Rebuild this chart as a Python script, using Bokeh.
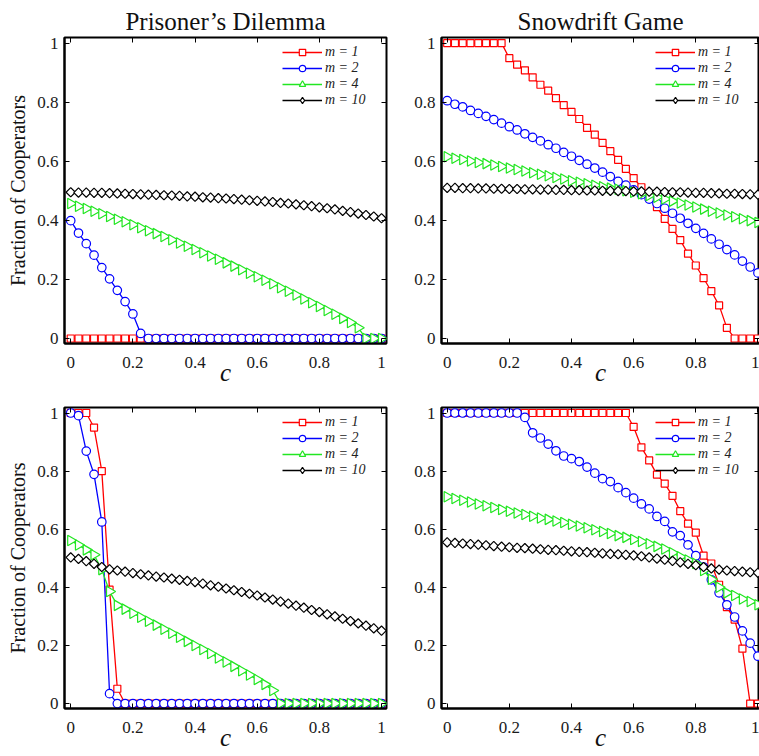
import math
from bokeh.plotting import figure
from bokeh.layouts import gridplot
from bokeh.models import (Range1d, FixedTicker, CustomJSTickFormatter, LinearAxis,
                          Legend, LegendItem)
from bokeh.embed import file_html
from bokeh.resources import INLINE

# ---------------- data ----------------
C = [0.000, 0.025, 0.050, 0.075, 0.100, 0.125, 0.150, 0.175, 0.200, 0.225,
     0.250, 0.275, 0.300, 0.325, 0.350, 0.375, 0.400, 0.425, 0.450, 0.475,
     0.500, 0.525, 0.550, 0.575, 0.600, 0.625, 0.650, 0.675, 0.700, 0.725,
     0.750, 0.775, 0.800, 0.825, 0.850, 0.875, 0.900, 0.925, 0.950, 0.975, 1.000]

# Prisoner's Dilemma, top row
PD1_m1 = [0, 0, 0, 0, 0, 0, 0, 0, 0, 0,
          0, 0, 0, 0, 0, 0, 0, 0, 0, 0,
          0, 0, 0, 0, 0, 0, 0, 0, 0, 0,
          0, 0, 0, 0, 0, 0, 0, 0, 0, 0, 0]
PD1_m2 = [0.399, 0.357, 0.321, 0.282, 0.240, 0.202, 0.163, 0.125, 0.083, 0.017,
          0, 0, 0, 0, 0, 0, 0, 0, 0, 0,
          0, 0, 0, 0, 0, 0, 0, 0, 0, 0,
          0, 0, 0, 0, 0, 0, 0, 0, 0, 0, 0]
PD1_m4 = [0.457, 0.448, 0.440, 0.431, 0.422, 0.413, 0.404, 0.395, 0.385, 0.375,
          0.365, 0.355, 0.345, 0.334, 0.323, 0.312, 0.301, 0.290, 0.279, 0.268,
          0.256, 0.245, 0.233, 0.221, 0.209, 0.197, 0.185, 0.172, 0.160, 0.147,
          0.134, 0.121, 0.108, 0.095, 0.082, 0.068, 0.054, 0.036, 0.0, 0.0, 0.0]
PD1_m10 = [0.495, 0.494, 0.494, 0.493, 0.493, 0.492, 0.491, 0.490, 0.489, 0.488,
           0.487, 0.486, 0.485, 0.484, 0.483, 0.481, 0.480, 0.478, 0.477, 0.475,
           0.474, 0.472, 0.470, 0.468, 0.466, 0.464, 0.462, 0.459, 0.457, 0.454,
           0.451, 0.448, 0.444, 0.441, 0.437, 0.432, 0.428, 0.423, 0.418, 0.413, 0.407]

# Snowdrift Game, top row
SD1_m1 = [1.0, 1.0, 1.0, 1.0, 1.0, 1.0, 1.0, 1.0, 0.949, 0.927,
          0.908, 0.884, 0.859, 0.839, 0.814, 0.790, 0.767, 0.743, 0.713, 0.690,
          0.662, 0.634, 0.605, 0.574, 0.543, 0.512, 0.481, 0.445, 0.405, 0.371,
          0.333, 0.287, 0.247, 0.204, 0.160, 0.112, 0.036, 0.0, 0.0, 0.0, 0.0]
SD1_m2 = [0.805, 0.793, 0.784, 0.772, 0.762, 0.752, 0.741, 0.729, 0.717, 0.706,
          0.693, 0.681, 0.669, 0.656, 0.644, 0.630, 0.617, 0.603, 0.590, 0.577,
          0.563, 0.548, 0.532, 0.519, 0.503, 0.487, 0.472, 0.457, 0.441, 0.424,
          0.407, 0.390, 0.373, 0.356, 0.337, 0.319, 0.301, 0.283, 0.262, 0.242, 0.222]
SD1_m4 = [0.615, 0.610, 0.606, 0.601, 0.596, 0.592, 0.587, 0.582, 0.577, 0.572,
          0.567, 0.561, 0.556, 0.551, 0.545, 0.540, 0.534, 0.529, 0.524, 0.519,
          0.514, 0.509, 0.505, 0.500, 0.495, 0.490, 0.484, 0.478, 0.472, 0.465,
          0.459, 0.452, 0.445, 0.438, 0.431, 0.425, 0.418, 0.412, 0.405, 0.399, 0.393]
SD1_m10 = [0.510, 0.510, 0.509, 0.509, 0.508, 0.508, 0.507, 0.507, 0.506, 0.506,
           0.505, 0.505, 0.504, 0.504, 0.503, 0.503, 0.502, 0.502, 0.501, 0.501,
           0.500, 0.500, 0.499, 0.499, 0.498, 0.498, 0.497, 0.497, 0.496, 0.495,
           0.495, 0.494, 0.493, 0.493, 0.492, 0.491, 0.490, 0.490, 0.489, 0.488, 0.487]

# Prisoner's Dilemma, bottom row
PD2_m1 = [1.0, 1.0, 1.0, 0.950, 0.800, 0.392, 0.051, 0, 0, 0,
          0, 0, 0, 0, 0, 0, 0, 0, 0, 0,
          0, 0, 0, 0, 0, 0, 0, 0, 0, 0,
          0, 0, 0, 0, 0, 0, 0, 0, 0, 0, 0]
PD2_m2 = [1.0, 0.991, 0.869, 0.789, 0.625, 0.034, 0, 0, 0, 0,
          0, 0, 0, 0, 0, 0, 0, 0, 0, 0,
          0, 0, 0, 0, 0, 0, 0, 0, 0, 0,
          0, 0, 0, 0, 0, 0, 0, 0, 0, 0, 0]
PD2_m4 = [0.561, 0.546, 0.529, 0.512, 0.461, 0.386, 0.338, 0.325, 0.311, 0.297,
          0.283, 0.270, 0.256, 0.242, 0.228, 0.214, 0.200, 0.186, 0.172, 0.157,
          0.143, 0.128, 0.113, 0.098, 0.083, 0.066, 0.045, 0, 0, 0,
          0, 0, 0, 0, 0, 0, 0, 0, 0, 0, 0]
PD2_m10 = [0.503, 0.498, 0.490, 0.481, 0.470, 0.462, 0.458, 0.454, 0.449, 0.445,
           0.441, 0.437, 0.434, 0.430, 0.426, 0.422, 0.418, 0.413, 0.407, 0.402,
           0.396, 0.390, 0.384, 0.378, 0.372, 0.365, 0.358, 0.351, 0.344, 0.337,
           0.330, 0.322, 0.315, 0.307, 0.300, 0.292, 0.284, 0.276, 0.268, 0.259, 0.251]

# Snowdrift Game, bottom row
SD2_m1 = [1.0, 1.0, 1.0, 1.0, 1.0, 1.0, 1.0, 1.0, 1.0, 1.0,
          1.0, 1.0, 1.0, 1.0, 1.0, 1.0, 1.0, 1.0, 1.0, 1.0,
          1.0, 1.0, 1.0, 1.0, 0.952, 0.882, 0.837, 0.788, 0.757, 0.715,
          0.662, 0.619, 0.588, 0.509, 0.482, 0.409, 0.332, 0.289, 0.189, 0.0, 0.0]
SD2_m2 = [1.0, 1.0, 1.0, 1.0, 1.0, 1.0, 1.0, 1.0, 1.0, 1.0,
          0.985, 0.932, 0.914, 0.893, 0.870, 0.852, 0.843, 0.833, 0.814, 0.793,
          0.774, 0.764, 0.743, 0.726, 0.707, 0.687, 0.670, 0.644, 0.627, 0.591,
          0.578, 0.546, 0.509, 0.470, 0.426, 0.381, 0.340, 0.298, 0.250, 0.208, 0.163]
SD2_m4 = [0.712, 0.706, 0.700, 0.694, 0.687, 0.681, 0.675, 0.668, 0.662, 0.656,
          0.651, 0.645, 0.639, 0.634, 0.628, 0.623, 0.617, 0.611, 0.605, 0.598,
          0.592, 0.585, 0.578, 0.572, 0.565, 0.558, 0.550, 0.541, 0.532, 0.519,
          0.505, 0.494, 0.482, 0.458, 0.428, 0.400, 0.381, 0.372, 0.360, 0.351, 0.340]
SD2_m10 = [0.555, 0.553, 0.551, 0.549, 0.547, 0.545, 0.542, 0.540, 0.538, 0.536,
           0.535, 0.533, 0.531, 0.529, 0.528, 0.526, 0.524, 0.522, 0.521, 0.519,
           0.517, 0.515, 0.514, 0.512, 0.510, 0.507, 0.503, 0.499, 0.495, 0.491,
           0.486, 0.481, 0.476, 0.470, 0.465, 0.461, 0.458, 0.456, 0.454, 0.452, 0.450]

SERIES_LABELS = ["m = 1", "m = 2", "m = 4", "m = 10"]
TICKS = [0, 0.2, 0.4, 0.6, 0.8, 1]
TITLES = ["Prisoner\u2019s Dilemma", "Snowdrift Game"]
Y_LABEL = "Fraction of Cooperators"
X_LABEL = "c"

# ---------------- style ----------------
FONT = "Liberation Serif"
COLORS = ["#ff0000", "#0000ff", "#22e622", "#000000"]
MARKERS = [dict(marker="square", size=7, angle=0.0, legend="square"),
           dict(marker="circle", size=8.5, angle=0.0, legend="circle"),
           dict(marker="triangle", size=10.5, angle=-math.pi / 2, legend="triangle"),
           dict(marker="square", size=6.6, angle=math.pi / 4, legend="diamond")]

FMT = "return String(Math.round(tick*10)/10);"


def style_axis(ax, labels=True, standoff=6):
    ax.ticker = FixedTicker(ticks=TICKS)
    ax.formatter = CustomJSTickFormatter(code=FMT)
    ax.major_tick_in = 5
    ax.major_tick_out = 0
    ax.minor_tick_line_color = None
    ax.major_tick_line_color = "black"
    ax.major_tick_line_width = 1
    ax.axis_line_width = 2
    ax.axis_line_color = "black"
    ax.major_label_text_font = FONT
    if labels:
        ax.major_label_text_color = "#1a1a1a"
        ax.major_label_text_font_size = "17px"
        ax.major_label_standoff = standoff
    else:
        ax.major_label_text_color = None
        ax.major_label_text_font_size = "1px"
        ax.major_label_standoff = 0
        ax.axis_line_color = None


def panel(series, left, top):
    width = 396 if left else 363
    height = 391 if top else 365
    xr = Range1d(-0.02, 1.016) if left else Range1d(-0.0183, 1.005)
    p = figure(width=width, height=height, x_range=xr, y_range=Range1d(-0.017, 1.019),
               output_backend="svg", toolbar_location=None,
               min_border_left=64 if left else 45, min_border_right=10 if left else 0,
               min_border_top=37 if top else 16, min_border_bottom=48,
               background_fill_color="white", border_fill_color="white")
    if top:
        p.title.text = TITLES[0] if left else TITLES[1]
        p.title.text_font = FONT
        p.title.text_font_size = "25px"
        p.title.text_font_style = "normal"
        p.title.align = "center"
        p.title.text_color = "#111111"
        p.title.standoff = 6
    p.xgrid.visible = False
    p.ygrid.visible = False
    p.outline_line_color = "black"
    p.outline_line_width = 2
    p.outline_line_alpha = 1

    style_axis(p.below[0], standoff=13)
    style_axis(p.left[0], standoff=6)
    p.below[0].axis_label = X_LABEL
    p.below[0].axis_label_text_font = FONT
    p.below[0].axis_label_text_font_style = "italic"
    p.below[0].axis_label_text_font_size = "25px"
    p.below[0].axis_label_standoff = -12
    p.below[0].axis_label_text_color = "#111111"
    if left:
        p.left[0].axis_label = Y_LABEL
        p.left[0].axis_label_text_font = FONT
        p.left[0].axis_label_text_font_style = "normal"
        p.left[0].axis_label_text_font_size = "20px"
        p.left[0].axis_label_standoff = 5
        p.left[0].axis_label_text_color = "#111111"

    ax_top = LinearAxis()
    style_axis(ax_top, labels=False)
    p.add_layout(ax_top, "above")
    ax_right = LinearAxis()
    style_axis(ax_right, labels=False)
    p.add_layout(ax_right, "right")

    items = []
    for ys, lab, col, mk in zip(series, SERIES_LABELS, COLORS, MARKERS):
        lr = p.line(C, ys, line_color=col, line_width=1.3)
        p.scatter(C, ys, marker=mk["marker"], size=mk["size"], angle=mk["angle"],
                  line_color=col, line_width=1.2, fill_color="white")
        # legend-only proxy so the legend shows the symbol shape
        proxy = p.scatter(C, ys, marker=mk["legend"], size=mk["size"],
                          line_color=col, line_width=1.2, fill_color="white", visible=False)
        items.append(LegendItem(label=lab, renderers=[lr, proxy]))
    leg = Legend(items=items, location="top_right")
    leg.border_line_color = None
    leg.background_fill_alpha = 0
    leg.padding = 0
    leg.spacing = 0
    leg.margin = 7
    leg.glyph_width = 40
    leg.glyph_height = 16
    leg.label_height = 16
    leg.label_width = 54
    leg.label_standoff = 3
    leg.label_text_font = FONT
    leg.label_text_font_size = "14px"
    leg.label_text_font_style = "italic"
    leg.label_text_color = "#222222"
    leg.inactive_fill_alpha = 0
    p.add_layout(leg, "center")
    return p


p1 = panel([PD1_m1, PD1_m2, PD1_m4, PD1_m10], True, True)
p2 = panel([SD1_m1, SD1_m2, SD1_m4, SD1_m10], False, True)
p3 = panel([PD2_m1, PD2_m2, PD2_m4, PD2_m10], True, False)
p4 = panel([SD2_m1, SD2_m2, SD2_m4, SD2_m10], False, False)

grid = gridplot([[p1, p2], [p3, p4]], toolbar_location=None)

open("out.html", "w").write(file_html(grid, INLINE))
